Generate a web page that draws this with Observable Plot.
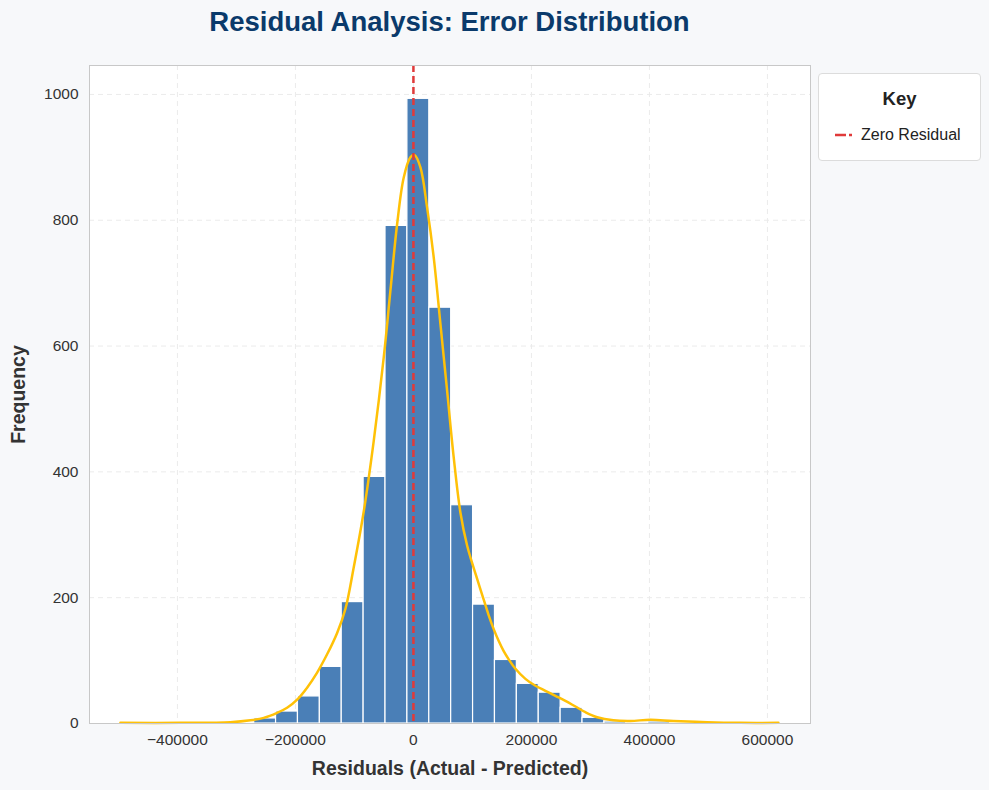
<!DOCTYPE html>
<html>
<head>
<meta charset="utf-8">
<script src="https://cdn.jsdelivr.net/npm/d3@7"></script>
<script src="https://cdn.jsdelivr.net/npm/@observablehq/plot@0.6"></script>
<style>
  html, body { margin: 0; padding: 0; background: #f7f8fa; }
  body { font-family: "Liberation Sans", Arial, sans-serif; }
  #wrap { position: relative; width: 989px; height: 790px; }
  #title { position: absolute; left: 89px; width: 721px; top: 6px; text-align: center;
           font-size: 27.5px; font-weight: bold; color: #0a3a6b; }
  #legend { position: absolute; left: 818px; top: 73px; width: 163px; height: 88px;
            background: #fff; border: 1px solid #dcdcdc; border-radius: 4px; box-sizing: border-box; }
  #legend .head { position: absolute; left: 0; width: 100%; top: 14px; text-align: center;
                  font-size: 18.5px; font-weight: bold; color: #222; }
  #legend .item { position: absolute; left: 16px; top: 52px; font-size: 16px; color: #222;
                  display: flex; align-items: center; }
  #legend svg { margin-right: 9px; }
  #chart svg { position: absolute; left: 0; top: 0; }
</style>
</head>
<body>
<div id="wrap">
  <div id="chart"></div>
  <div id="title">Residual Analysis: Error Distribution</div>
  <div id="legend">
    <div class="head">Key</div>
    <div class="item"><svg width="17" height="6"><line x1="0" y1="3" x2="17" y2="3" stroke="#e03a3a" stroke-width="2.5" stroke-dasharray="11,3"/></svg>Zero Residual</div>
  </div>
</div>
<script>
// Histogram bins (residual value ranges) and counts
const binStart = -492500;
const binWidth = 37100;
const binCounts = [1, 0, 0, 0, 0, 1, 8, 19, 43, 90, 193, 392, 791, 993, 661, 347, 189, 101, 63, 49, 25, 9, 3, 2, 3, 1, 0, 0, 0, 1];

// KDE curve (residual, scaled density in counts)
const kdeX = [-496600, -394900, -310200, -276300, -253700, -231000, -214100, -197100, -180200, -163200,
  -146300, -129300, -115300, -101200, -84200, -67300, -50300, -39000, -27600, -16400,
  -5100, 1700, 11900, 23200, 34400, 45800, 57100, 68300, 79700, 91000,
  106300, 116400, 127600, 136100, 144600, 153000, 161500, 172900, 189800, 206800,
  223700, 240700, 257600, 274600, 291500, 311400, 339000, 367800, 401700, 440700,
  497800, 554200, 618600];
const kdeY = [1, 1, 2, 5, 9, 17, 25, 38, 57, 81,
  110, 144, 182, 248, 337, 449, 582, 688, 794, 868,
  900, 904, 884, 820, 741, 635, 529, 423, 335, 283,
  235, 205, 172, 150, 131, 115, 102, 87, 71, 60,
  52, 44, 36, 27, 18, 10, 5, 4, 6, 4,
  2, 1, 1];

const xTicks = [-400000, -200000, 0, 200000, 400000, 600000];
const yTicks = [0, 200, 400, 600, 800, 1000];

const bins = binCounts.map((c, i) => ({x1: binStart + i * binWidth, x2: binStart + (i + 1) * binWidth, count: c}));
const kde = kdeX.map((x, i) => ({x, y: kdeY[i]}));

const fmt = d => d < 0 ? "\u2212" + Math.abs(d) : String(d);
const font = "'Liberation Sans', Arial, sans-serif";

const chart = Plot.plot({
  width: 989,
  height: 790,
  marginLeft: 89,
  marginRight: 179,
  marginTop: 65,
  marginBottom: 67,
  style: {background: "transparent", fontSize: "15.5px", color: "#333", fontFamily: font},
  x: {domain: [-549000, 673000], label: null},
  y: {domain: [0, 1046], label: null},
  marks: [
    Plot.frame({fill: "white", stroke: "none"}),
    Plot.gridX(xTicks, {stroke: "#ebebeb", strokeOpacity: 1, strokeDasharray: "5,4"}),
    Plot.gridY(yTicks, {stroke: "#ebebeb", strokeOpacity: 1, strokeDasharray: "5,4"}),
    Plot.rectY(bins, {x1: "x1", x2: "x2", y: "count", fill: "#4a7fb7", stroke: "white", strokeWidth: 1.2}),
    Plot.line(kde, {x: "x", y: "y", stroke: "#ffc107", strokeWidth: 2.5, curve: "catmull-rom"}),
    Plot.ruleX([0], {stroke: "#e03a3a", strokeWidth: 2.5, strokeDasharray: "7,4"}),
    Plot.frame({stroke: "#c8c8c8", strokeWidth: 1}),
    Plot.axisX(xTicks, {tickFormat: fmt, tickSize: 0, tickPadding: 10, fontSize: 15.5, fill: "#333", label: null}),
    Plot.axisY(yTicks, {tickFormat: d => String(d), tickSize: 0, tickPadding: 11, fontSize: 15.5, fill: "#333", label: null}),
    Plot.text(["Residuals (Actual - Predicted)"], {frameAnchor: "bottom", dy: 51, fontSize: 19.5, fontWeight: "bold", fill: "#333"}),
    Plot.text(["Frequency"], {frameAnchor: "left", textAnchor: "middle", dx: -71, rotate: -90, fontSize: 19.5, fontWeight: "bold", fill: "#333"})
  ]
});
document.getElementById("chart").appendChild(chart);
</script>
</body>
</html>
